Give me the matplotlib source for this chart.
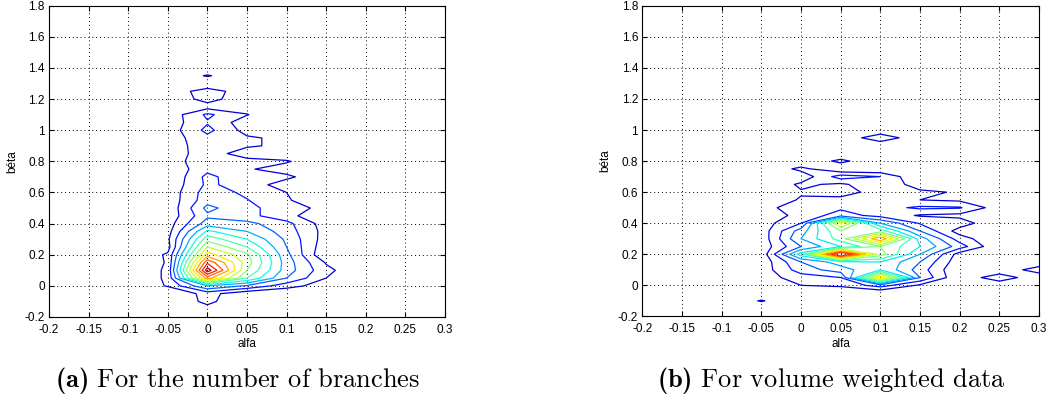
import numpy as np
import matplotlib
matplotlib.use("Agg")
import matplotlib.pyplot as plt
from matplotlib.colors import Normalize

plt.rcParams["mathtext.fontset"] = "custom"
plt.rcParams["mathtext.rm"] = "cmr10"
plt.rcParams["mathtext.bf"] = "cmb10"
plt.rcParams["font.family"] = ["Liberation Sans", "DejaVu Sans"]

# tick labels as printed by MATLAB
XTICKS = [-0.2, -0.15, -0.1, -0.05, 0, 0.05, 0.1, 0.15, 0.2, 0.25, 0.3]
XTICK_LABELS = ["-0.2", "-0.15", "-0.1", "-0.05", "0", "0.05", "0.1", "0.15", "0.2", "0.25", "0.3"]
YTICKS = [-0.2, 0, 0.2, 0.4, 0.6, 0.8, 1.0, 1.2, 1.4, 1.6, 1.8]
YTICK_LABELS = ["-0.2", "0", "0.2", "0.4", "0.6", "0.8", "1", "1.2", "1.4", "1.6", "1.8"]

# (a) number of branches: histogram nodes, rows listed from top (beta high) to bottom
alfa_a = [-0.1, -0.05, 0, 0.05, 0.1, 0.15, 0.2]
beta_a = [1.40, 1.35, 1.30, 1.25, 1.20, 1.15, 1.10, 1.05, 1.00, 0.95, 0.90,
          0.85, 0.80, 0.75, 0.70, 0.65, 0.60, 0.55, 0.50, 0.45, 0.40, 0.35,
          0.30, 0.25, 0.20, 0.15, 0.10, 0.05, 0.00, -0.05, -0.10, -0.15]
counts_a = [
    [0, 0, 0, 0, 0, 0, 0],
    [0, 0, 1.12, 0, 0, 0, 0],
    [0, 0, 0, 0, 0, 0, 0],
    [0, 0.2, 1.6, 0.3, 0, 0, 0],
    [0, 0.3, 1.35, 0.4, 0, 0, 0],
    [0, 0.5, 0.6, 0.5, 0, 0, 0],
    [0, 0.3, 2.2, 1.05, 0, 0, 0],
    [0, 0.4, 1.9, 0.4, 0, 0, 0],
    [0, 0.4, 2.3, 0.6, 0, 0, 0],
    [0, 0.45, 1.7, 1.15, 0.75, 0, 0],
    [0, 0.4, 1.6, 1.15, 0.75, 0, 0],
    [0, 0.35, 1.6, 0.4, 0.3, 0, 0],
    [0, 0.45, 1.7, 1.4, 1.1, 0.2, 0],
    [0, 0.2, 1.7, 1.1, 0.6, 0, 0],
    [0, 0, 2.3, 1.2, 1.2, 0.3, 0],
    [0, 0.2, 2.2, 1.5, 0.55, 0, 0],
    [0, 0.3, 2.5, 1.8, 1.0, 0, 0],
    [0, 0.3, 2.6, 2.05, 1.1, 0.3, 0],
    [0, 0.2, 3.3, 2.2, 1.6, 0.6, 0],
    [0, 0.3, 2.8, 2.3, 1.4, 0, 0],
    [0, 0.5, 3.5, 3.3, 2.3, 0.5, 0],
    [0, 0.6, 5.2, 4.0, 2.5, 0.6, 0],
    [0, 0.8, 6.6, 5.0, 2.8, 0.5, 0],
    [0, 0.6, 8.0, 6.0, 3.0, 0.3, 0],
    [0, 1.15, 9.5, 7.2, 3.3, 0, 0],
    [0, 1.1, 11.8, 7.5, 3.5, 0.9, 0],
    [0, 1.2, 13.6, 7.0, 3.5, 1.3, 0],
    [0, 1.2, 10.5, 6.0, 3.0, 1.0, 0],
    [0, 1.1, 4.0, 2.87, 1.43, 0.45, 0],
    [0, 0, 1.4, 0.2, 0, 0, 0],
    [0, 0, 1.3, 0, 0, 0, 0],
    [0, 0, 0.6, 0, 0, 0, 0],
]
levels_a = [1, 2, 3, 4, 5, 6, 7, 8, 9, 10, 11, 12, 13]

# (b) volume weighted
alfa_b = [-0.1, -0.05, 0, 0.05, 0.1, 0.15, 0.2, 0.25, 0.3, 0.35]
beta_b = [1.00, 0.95, 0.90, 0.85, 0.80, 0.75, 0.70, 0.65, 0.60, 0.55, 0.50,
          0.45, 0.40, 0.35, 0.30, 0.25, 0.20, 0.15, 0.10, 0.05, 0.00,
          -0.05, -0.10, -0.15]
counts_b = [
    [0, 0, 0, 0, 0, 0, 0, 0, 0, 0],
    [0, 0, 0, 0, 1.9, 0, 0, 0, 0, 0],
    [0, 0, 0, 0, 0, 0, 0, 0, 0, 0],
    [0, 0, 0, 0, 0, 0, 0, 0, 0, 0],
    [0, 0, 0, 1.3, 0, 0, 0, 0, 0, 0],
    [0, 0, 1.3, 0, 0, 0, 0, 0, 0, 0],
    [0, 0, 0.3, 2.5, 2.0, 0, 0, 0, 0, 0],
    [0, 0, 1.2, 0.8, 1.8, 0.5, 0, 0, 0, 0],
    [0, 0, 0.9, 0.7, 1.3, 1.2, 0.9, 0, 0, 0],
    [0, 0.3, 1.1, 1.2, 1.2, 1.0, 0.8, 0, 0, 0],
    [0, 0.6, 1.6, 1.8, 1.6, 2.2, 2.1, 0.4, 0, 0],
    [0, 0.4, 1.3, 2.5, 1.6, 0.9, 0.7, 0, 0, 0],
    [0, 0.5, 2.0, 9.3, 4.0, 1.9, 1.6, 0, 0, 0],
    [0, 0.4, 3.5, 7.0, 6.5, 3.0, 0.5, 0, 0, 0],
    [0, 0.3, 4.0, 6.5, 11.0, 4.5, 1.5, 0, 0, 0],
    [0, 0.3, 3.0, 5.0, 7.0, 5.0, 2.5, 0, 0, 0],
    [0, 0.3, 5.5, 14.0, 7.5, 4.0, 0.5, 0, 0, 0],
    [0, 0.3, 3.0, 4.5, 5.0, 3.0, 0.3, 0, 0, 0],
    [0, 0.4, 2.5, 3.5, 5.0, 2.5, 0, 0, 1.7, 0],
    [0, 0.5, 1.5, 2.0, 10.0, 3.0, 0, 1.85, 0, 0],
    [0, 0.3, 1.0, 1.2, 2.5, 0.8, 0, 0, 0, 0],
    [0, 0, 0, 0, 0, 0, 0, 0, 0, 0],
    [0, 1.1, 0, 0, 0, 0, 0, 0, 0, 0],
    [0, 0, 0, 0, 0, 0, 0, 0, 0, 0],
]
levels_b = [1, 2, 3, 4, 5, 6, 7, 8, 9, 10, 11, 12]

captions = [r"$\mathbf{(a)}\ \mathrm{For\ the\ number\ of\ branches}$",
            r"$\mathbf{(b)}\ \mathrm{For\ volume\ weighted\ data}$"]


def draw_panel(ax, alfa, beta, counts, levels):
    z = np.flipud(np.array(counts, dtype=float))
    b = np.array(beta[::-1])
    ax.contour(alfa, b, z, levels=levels, cmap="jet",
               norm=Normalize(0, z.max()), linewidths=0.9)
    ax.set_xlim(-0.2, 0.3)
    ax.set_ylim(-0.2, 1.8)
    ax.set_xticks(XTICKS)
    ax.set_xticklabels(XTICK_LABELS)
    ax.set_yticks(YTICKS)
    ax.set_yticklabels(YTICK_LABELS)
    ax.tick_params(direction="in", top=True, right=True, length=3.5,
                   width=0.8, labelsize=8.5)
    ax.tick_params(axis="x", pad=5)
    ax.tick_params(axis="y", pad=3)
    ax.grid(True, linestyle=(0, (1, 3)), color="k", linewidth=0.7)
    for s in ax.spines.values():
        s.set_linewidth(0.8)
    ax.text(0.5, -0.088, "alfa", transform=ax.transAxes, ha="center",
            va="center", fontsize=8.5)
    ax.text(-0.093, 0.5, "béta", transform=ax.transAxes, ha="center",
            va="center", rotation=90, fontsize=8.5)


fig = plt.figure(figsize=(10.49, 4.05), dpi=100)
ax_a = fig.add_axes([0.0467, 0.2173, 0.3775, 0.7686])
ax_b = fig.add_axes([0.6123, 0.2188, 0.3782, 0.7669])

draw_panel(ax_a, alfa_a, beta_a, counts_a, levels_a)
draw_panel(ax_b, alfa_b, beta_b, counts_b, levels_b)

fig.text(237.5 / 1049, 1 - 381 / 405, captions[0], ha="center", va="center", fontsize=19)
fig.text(831.5 / 1049, 1 - 381 / 405, captions[1], ha="center", va="center", fontsize=19)

fig.savefig("out.png", dpi=100)
